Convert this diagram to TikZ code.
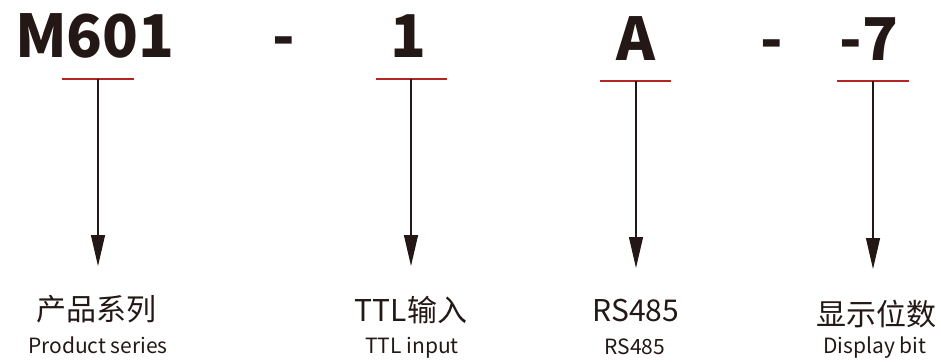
\documentclass[tikz,border=0pt]{standalone}
\usepackage{fontspec}
\setmainfont{Noto Sans CJK SC}
\usetikzlibrary{arrows.meta}
\definecolor{ink}{RGB}{35,24,21}
\definecolor{barred}{RGB}{180,36,36}
\definecolor{linegray}{RGB}{60,60,60}
\begin{document}
\begin{tikzpicture}[x=1pt,y=-1pt,
  code/.style={inner sep=0pt, anchor=base, text=ink, font=\fontsize{59}{59}\selectfont\bfseries},
  cn/.style={inner sep=0pt, anchor=base, text=ink, font=\fontsize{30}{30}\selectfont},
  en/.style={inner sep=0pt, anchor=base, text=ink, font=\fontsize{21}{21}\selectfont},
  bar/.style={draw=barred, line width=2pt},
  pointer/.style={draw=linegray, line width=1.2pt, -{Triangle[width=14pt,length=31pt]}, color=ink}]
\useasboundingbox (0,0) rectangle (941,361);
% codes
\node[code] (c1) at (95,57) {M601};
\node[code] (d1) at (284,57) {-};
\node[code] (c2) at (408,57) {1};
\node[code] (c3) at (636,60) {A};
\node[code] (d2) at (772,60) {-};
\node[code] (c4) at (869,60) {-7};
% bars
\coordinate (b1l) at (62,79); \coordinate (b1r) at (134,79); \coordinate (b1) at (98,79);
\coordinate (b2l) at (376,79); \coordinate (b2r) at (447,79); \coordinate (b2) at (411,79);
\coordinate (b3l) at (600,81); \coordinate (b3r) at (671,81); \coordinate (b3) at (636,81);
\coordinate (b4l) at (837,81); \coordinate (b4r) at (909,81); \coordinate (b4) at (873,81);
\draw[bar] (b1l) -- (b1r);
\draw[bar] (b2l) -- (b2r);
\draw[bar] (b3l) -- (b3r);
\draw[bar] (b4l) -- (b4r);
% arrow tips
\coordinate (t1) at (98,266);
\coordinate (t2) at (411,266);
\coordinate (t3) at (636,268);
\coordinate (t4) at (873,269);
\draw[pointer] (b1) -- (t1);
\draw[pointer] (b2) -- (t2);
\draw[pointer] (b3) -- (t3);
\draw[pointer] (b4) -- (t4);
% labels
\node[cn] (l1) at (96,320) {产品系列};
\node[en] (e1) at (98,353) {Product series};
\node[cn] (l2) at (411,321) {TTL输入};
\node[en] (e2) at (412,353) {TTL input};
\node[cn] (l3) at (636,321) {RS485};
\node[en] (e3) at (635,354) {RS485};
\node[cn] (l4) at (876,325) {显示位数};
\node[en] (e4) at (875,353) {Display bit};
\end{tikzpicture}
\end{document}
